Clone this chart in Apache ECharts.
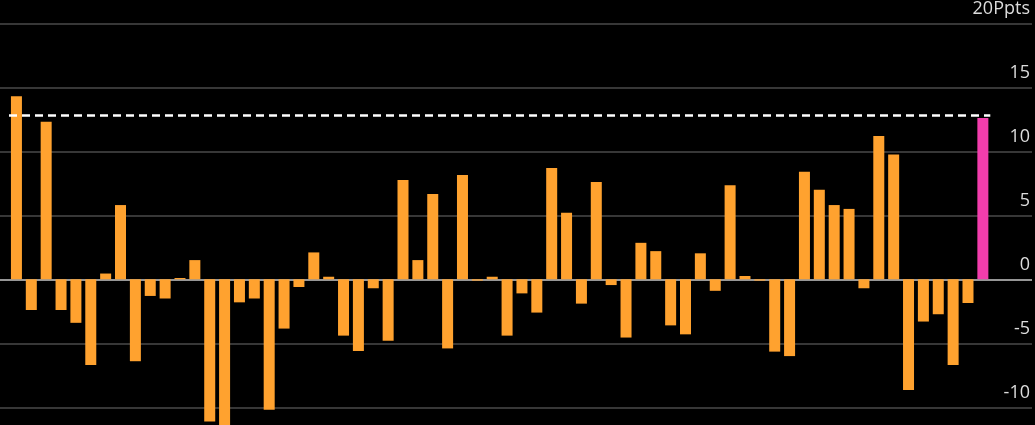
<!DOCTYPE html>
<html>
<head>
<meta charset="utf-8">
<script src="https://cdn.jsdelivr.net/npm/echarts@6/dist/echarts.min.js"></script>
<style>
html,body{margin:0;padding:0;background:#000;overflow:hidden;height:425px;}
#c{width:1035px;height:472px;}
</style>
</head>
<body>
<div id="c"></div>
<script>
const values = [14.3,-2.4,12.3,-2.4,-3.4,-6.7,0.45,5.8,-6.4,-1.3,-1.5,0.1,1.5,-11.1,-11.6,-1.8,-1.5,-10.2,-3.85,-0.6,2.1,0.2,-4.4,
  -5.6,-0.7,-4.8,7.76,1.5,6.67,-5.4,8.15,-0.1,0.2,-4.4,-1.1,-2.6,8.7,5.2,-1.9,7.6,-0.45,-4.55,2.85,2.2,-3.6,-4.3,
  2.03,-0.9,7.34,0.26,-0.1,-5.65,-6.0,8.4,7.0,5.8,5.5,-0.7,11.2,9.75,-8.65,-3.3,-2.73,-6.7,-1.85,12.6];
const categories = values.map((v,i)=>String(i+1));
const highlightIndex = 65;
const referenceLevel = 12.8;
const tickValues = [-15,-10,-5,0,5,10,15,20];
const unitLabel = 'Ppts';

const ORANGE = '#FFA22F', MAGENTA = '#F23DAC';
const yMin = -15, yMax = 20;
const chart = echarts.init(document.getElementById('c'));
chart.setOption({
  backgroundColor:'#000',
  animation:false,
  grid:[
    {left:0,right:3,top:23.3,bottom:0.7},
    {left:9,right:44.7,top:23.3,bottom:0.7}
  ],
  xAxis:[
    {type:'value',gridIndex:0,show:false,min:0,max:1},
    {type:'category',gridIndex:1,data:categories,show:false,boundaryGap:true}
  ],
  yAxis:[
    {type:'value',gridIndex:0,position:'right',min:yMin,max:yMax,interval:5,
     axisLine:{show:false},axisTick:{show:false},
     splitLine:{show:true,lineStyle:{width:1.5,color:tickValues.map(v=>v===0?'#c8c8c8':'#4a4a4a')}},
     axisLabel:{inside:true,margin:2,align:'right',verticalAlign:'bottom',padding:[0,0,5,0],
       color:'#dcdcdc',fontSize:18,fontFamily:'Open Sans',
       formatter:v=>v===20?('20'+unitLabel):(v===-15?'':String(v))}},
    {type:'value',gridIndex:1,min:yMin,max:yMax,interval:5,show:false,splitLine:{show:false}}
  ],
  series:[{
    type:'bar',xAxisIndex:1,yAxisIndex:1,barWidth:11,
    data:values.map((v,i)=>({value:v,itemStyle:{color:i===highlightIndex?MAGENTA:ORANGE}})),
    markLine:{silent:true,symbol:'none',label:{show:false},z:10,
      lineStyle:{color:'#fff',type:[8,5],width:2.5},
      data:[{yAxis:referenceLevel}]}
  }]
});
</script>
</body>
</html>
